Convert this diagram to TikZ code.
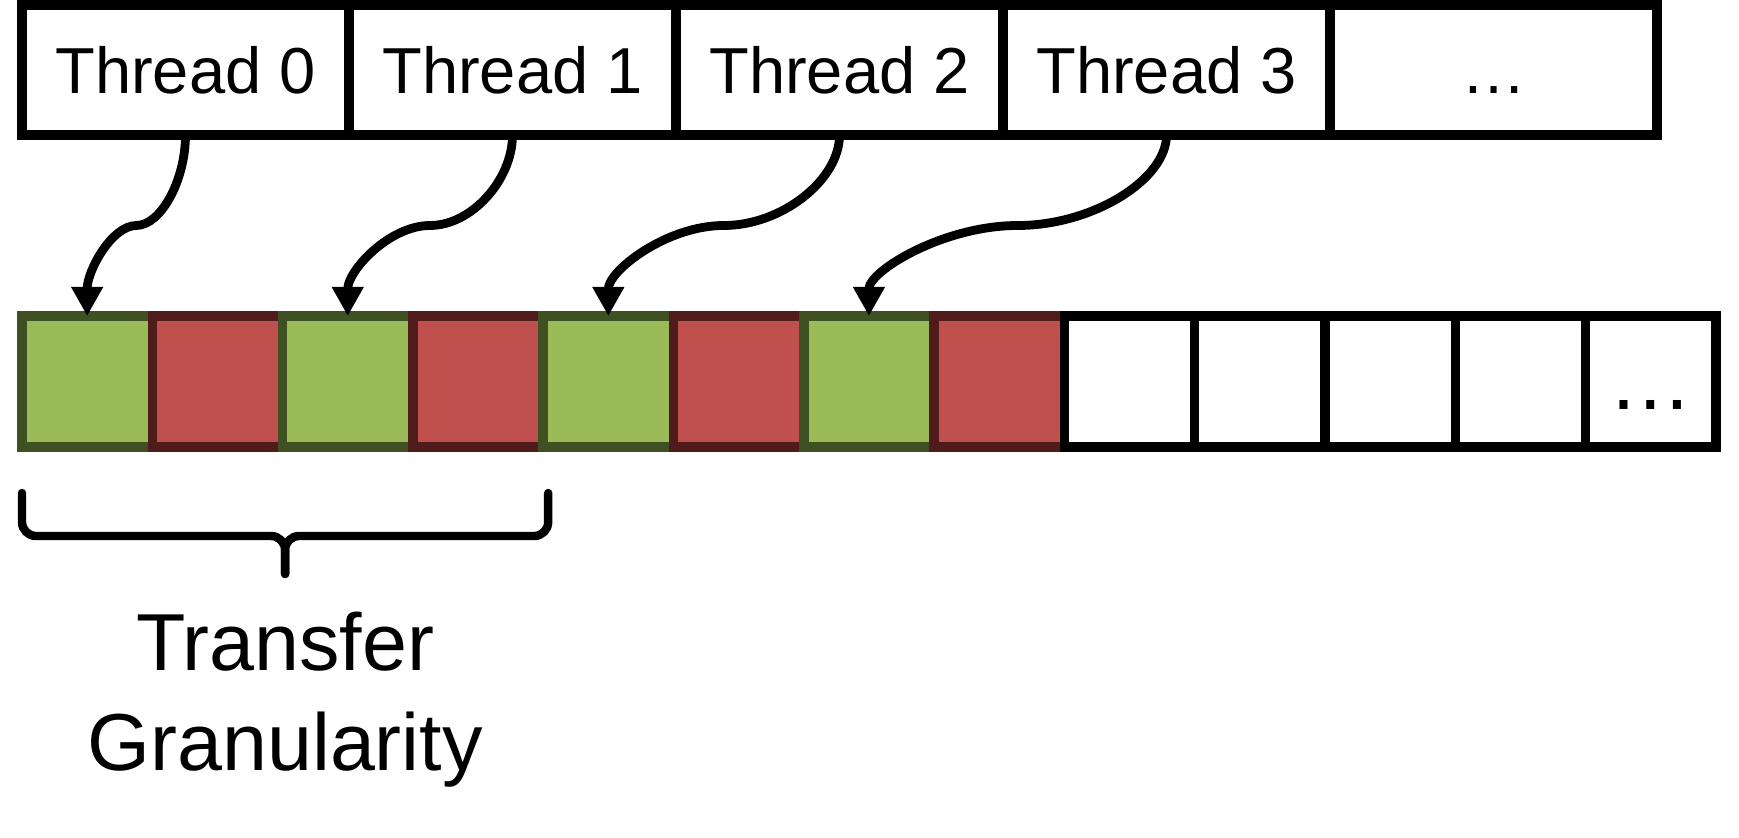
\documentclass[tikz,border=0pt]{standalone}
\usepackage{fontspec}
\setmainfont{Liberation Sans}
\usetikzlibrary{arrows.meta,positioning,calc}
\definecolor{cellgreen}{RGB}{155,187,89}
\definecolor{cellgreenline}{RGB}{63,80,34}
\definecolor{cellred}{RGB}{192,80,77}
\definecolor{cellredline}{RGB}{79,27,27}
\tikzset{
	threadbox/.style={draw, line width=2.6pt, minimum width=3.27cm, minimum height=1.3cm, inner sep=0pt, outer sep=0pt, text height=0.47cm, text depth=0pt, font=\fontsize{18.5}{22}\selectfont},
	cellbox/.style={draw, line width=2.7pt, minimum width=1.303cm, minimum height=1.31cm, inner sep=0pt, outer sep=0pt, text height=0.57cm, text depth=0pt, font=\fontsize{24}{28}\selectfont},
	usedcell/.style={cellbox, fill=cellgreen, draw=cellgreenline},
	skipcell/.style={cellbox, fill=cellred, draw=cellredline},
	access/.style={line width=2.5pt, -{Triangle[length=0.29cm,width=0.3cm]}},
	gbrace/.style={line width=2.4pt, rounded corners=0.14cm, line cap=round}
}
\begin{document}
\begin{tikzpicture}
			\useasboundingbox (0,0) rectangle (17.39,-8.38);
			\foreach \i/\txt in {0/Thread 0,1/Thread 1,2/Thread 2,3/Thread 3,4/…}
				\node[threadbox] (t\i) at ({1.855+3.27*\i},-0.70) {\txt};
			
			\foreach \i/\kind in {0/usedcell,1/skipcell,2/usedcell,3/skipcell,4/usedcell,5/skipcell,6/usedcell,7/skipcell,8/cellbox,9/cellbox,10/cellbox,11/cellbox}
				\node[\kind] (c\i) at ({0.8715+1.303*\i},-3.815) {};
			\node[cellbox, right=0pt of c11] (c12) {…};
			
			\foreach \t/\c in {0/0,1/2,2/4,3/6}{
				\coordinate (m\t) at ($(t\t.south)!0.5!(c\c.north)$);
				\draw[access] (t\t.south) .. controls +(0,-0.45) and ($(m\t)!0.5!(t\t.south|-m\t)$) .. (m\t)
					.. controls ($(m\t)!0.5!(c\c.north|-m\t)$) and +(0,0.45) .. (c\c.north);
			}
			
			\coordinate (bl) at ([yshift=-0.46cm]c0.south west);
			\coordinate (br) at ([xshift=0.05cm,yshift=-0.46cm]c3.south east);
			\coordinate (tip) at ($(bl)!0.5!(br)+(0,-0.81)$);
			\draw[gbrace] (bl) |- ($(tip)+(0,0.38)$) -- (tip);
			\draw[gbrace] (br) |- ($(tip)+(0,0.38)$) -- (tip);
			\node[below=0.37cm of tip, inner sep=0pt, align=center, font=\fontsize{23}{28.4}\selectfont] (gran) {Transfer\\Granularity};
		\end{tikzpicture}
\end{document}
